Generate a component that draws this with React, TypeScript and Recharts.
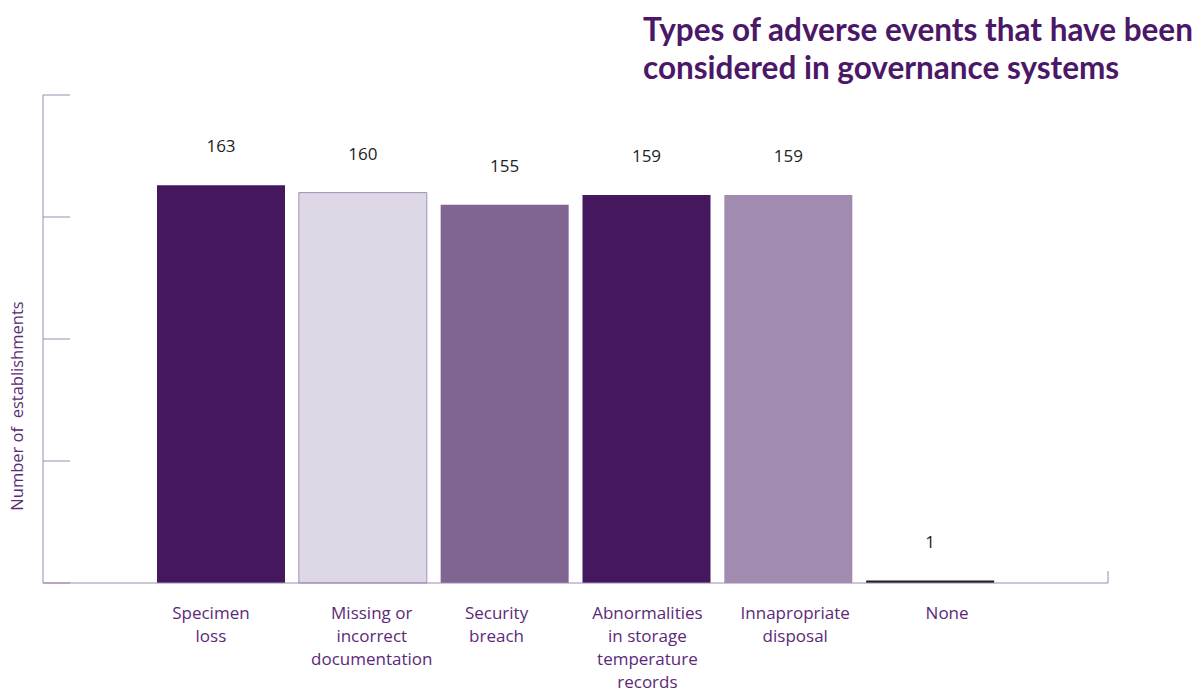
import React from 'react';
import { BarChart, Bar, XAxis, YAxis, Cell, LabelList } from 'recharts';

const categories = [
  'Specimen\nloss',
  'Missing or\nincorrect\ndocumentation',
  'Security\nbreach',
  'Abnormalities\nin storage\ntemperature\nrecords',
  'Innapropriate\ndisposal',
  'None',
];
const establishments = [163, 160, 155, 159, 159, 1];
const yTicks = [0, 50, 100, 150, 200];

// styling
const barColors = ['#45175d', '#ded7e5', '#806593', '#45175d', '#a28bb0', '#231f20'];
const barStrokes = ['none', '#a48fb9', 'none', 'none', 'none', 'none'];
const tickNudge = [-10, 9, -8, 1, 7, 17];

const AXIS = '#9f88b5';
const TEXT_PURPLE = '#5a2a78';
const PLOT_LEFT = 43;
const TICK_LEN = 27;

const data = categories.map((name, i) => ({ name, value: establishments[i] }));

const CategoryTick = (props: any) => {
  const { x, y, payload, index } = props;
  const lines = String(payload.value).split('\n');
  const cx = x + (tickNudge[index] || 0);
  return (
    <text
      x={cx}
      y={y + 28}
      textAnchor="middle"
      fill={TEXT_PURPLE}
      fontSize={17}
      fontFamily="'Open Sans', sans-serif"
    >
      {lines.map((line, i) => (
        <tspan key={i} x={cx} dy={i === 0 ? 0 : 23}>
          {line}
        </tspan>
      ))}
    </text>
  );
};

// inward tick marks: y comes from the axis scale, drawn from the axis line into the plot
const InnerTick = (props: any) => {
  const { y } = props;
  return (
    <line x1={PLOT_LEFT} y1={y} x2={PLOT_LEFT + TICK_LEN} y2={y} stroke={AXIS} strokeWidth={1} />
  );
};

const ValueLabel = (props: any) => {
  const { x, y, width, value } = props;
  return (
    <text
      x={x + width / 2}
      y={y - 33}
      textAnchor="middle"
      fill="#222"
      fontSize={17}
      fontFamily="'Open Sans', sans-serif"
    >
      {value}
    </text>
  );
};

export default function App() {
  return (
    <div style={{ position: 'absolute', left: 0, top: 0, width: 1202, height: 689, background: '#fff' }}>
      <div
        style={{
          position: 'absolute',
          left: 643,
          top: 10,
          fontFamily: 'Lato, sans-serif',
          fontWeight: 700,
          fontSize: 31.5,
          lineHeight: '38px',
          color: '#4b1868',
          whiteSpace: 'nowrap',
        }}
      >
        Types of adverse events that have been
        <br />
        considered in governance systems
      </div>
      <BarChart
        width={1202}
        height={689}
        data={data}
        margin={{ top: 95, left: PLOT_LEFT - 1, right: 94, bottom: 0 }}
      >
        <XAxis
          dataKey="name"
          height={106}
          interval={0}
          padding={{ left: 107, right: 107 }}
          stroke={AXIS}
          tickLine={false}
          tick={<CategoryTick />}
        />
        <YAxis
          width={1}
          domain={[0, 200]}
          ticks={yTicks}
          tickLine={false}
          tick={<InnerTick />}
          stroke={AXIS}
        />
        <Bar dataKey="value" barSize={128} isAnimationActive={false}>
          {data.map((_, i) => (
            <Cell key={i} fill={barColors[i]} stroke={barStrokes[i]} strokeWidth={1} />
          ))}
          <LabelList dataKey="value" content={<ValueLabel />} />
        </Bar>
      </BarChart>
      <svg
        width={1202}
        height={689}
        style={{ position: 'absolute', left: 0, top: 0, pointerEvents: 'none' }}
      >
        <line x1={1108} y1={571} x2={1108} y2={583} stroke={AXIS} strokeWidth={1} />
        <text
          transform="translate(23, 406) rotate(-90)"
          textAnchor="middle"
          fill={TEXT_PURPLE}
          fontSize={16.5}
          fontFamily="'Open Sans', sans-serif"
          style={{ whiteSpace: 'pre' }}
        >
          {'Number of  establishments'}
        </text>
      </svg>
    </div>
  );
}
